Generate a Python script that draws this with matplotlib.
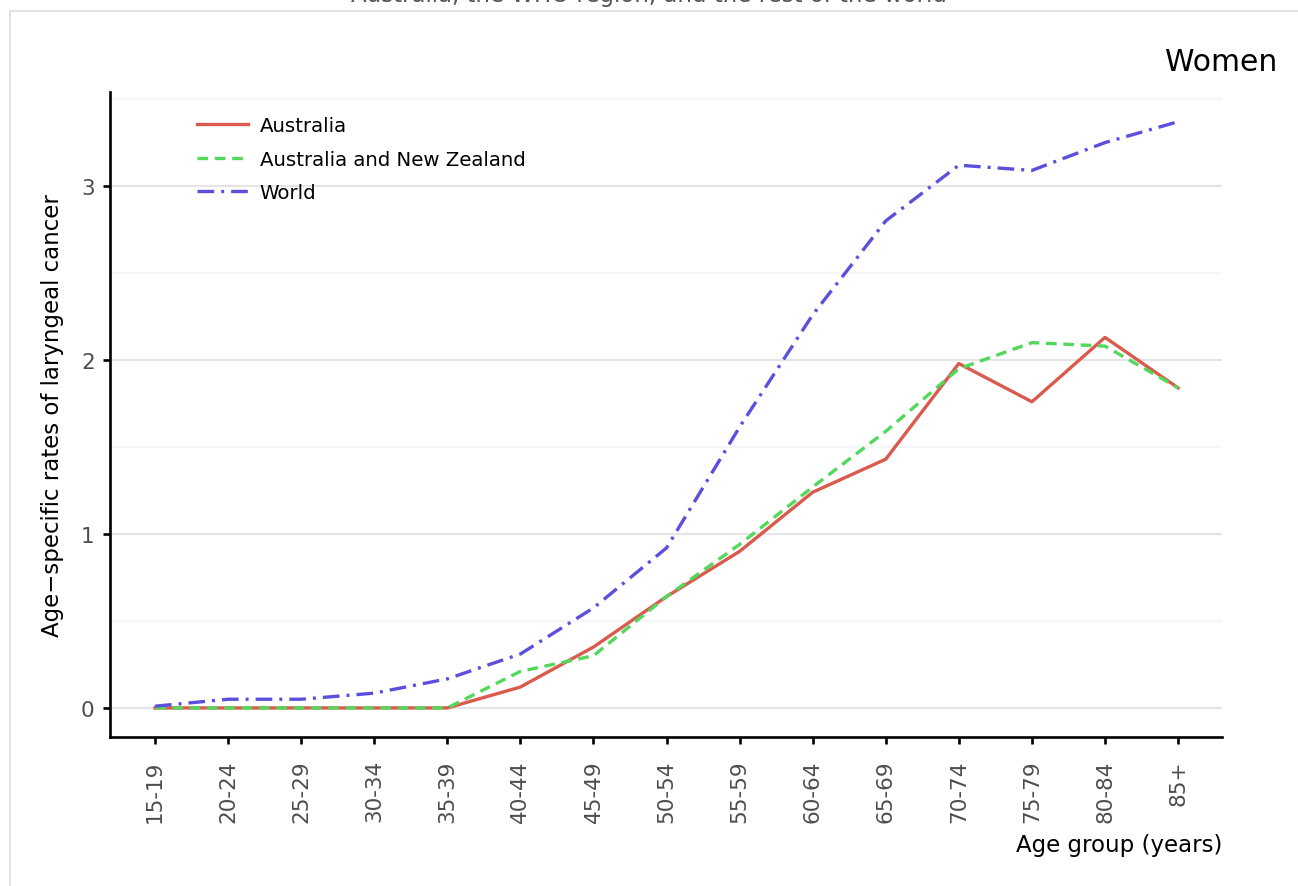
import matplotlib.pyplot as plt
from matplotlib.patches import Rectangle
from matplotlib.ticker import MultipleLocator

age_groups = ["15-19", "20-24", "25-29", "30-34", "35-39", "40-44", "45-49",
              "50-54", "55-59", "60-64", "65-69", "70-74", "75-79", "80-84", "85+"]

australia = [0, 0, 0, 0, 0, 0.12, 0.35, 0.64, 0.90, 1.24, 1.43, 1.98, 1.76, 2.13, 1.84]
anz = [0, 0, 0, 0, 0, 0.21, 0.30, 0.64, 0.94, 1.27, 1.59, 1.95, 2.10, 2.08, 1.84]
world = [0.01, 0.05, 0.05, 0.085, 0.167, 0.31, 0.575, 0.92, 1.615, 2.26, 2.80, 3.12,
         3.09, 3.25, 3.37]

RED = "#DB5A4E"
GREEN = "#52D85A"
BLUE = "#5B50DD"


def main():
    fig = plt.figure(figsize=(12.98, 8.87), dpi=100)
    ax = fig.add_axes([0.0847, 0.168, 0.8567, 0.727])

    # panel border and the clipped subtitle above it
    fig.patches.append(Rectangle((10 / 1298, -0.1), 1.2, 1 - 12 / 887 + 0.1,
                                 transform=fig.transFigure, fill=False,
                                 edgecolor="#dddddd", linewidth=1.2))
    fig.text(0.5, 1 - 2 / 887, "Australia, the WHO region, and the rest of the world",
             ha="center", va="baseline", fontsize=16.5, color="#555555")

    x = range(len(age_groups))
    ax.plot(x, australia, color=RED, linewidth=2.4, label="Australia")
    ax.plot(x, anz, color=GREEN, linewidth=2.4, linestyle=(0, (3.2, 2.0)),
            label="Australia and New Zealand")
    ax.plot(x, world, color=BLUE, linewidth=2.4, linestyle=(0, (5.0, 2.1, 0.9, 2.1)),
            label="World")

    ax.set_xlim(-0.616, 14.6)
    ax.set_ylim(-0.167, 3.54)
    ax.set_xticks(list(x))
    ax.set_xticklabels(age_groups, rotation=90)
    ax.yaxis.set_major_locator(MultipleLocator(1))
    ax.yaxis.set_minor_locator(MultipleLocator(0.5))

    ax.grid(axis="y", which="major", color="#e5e5e5", linewidth=1.6)
    ax.grid(axis="y", which="minor", color="#f6f6f6", linewidth=1.6)
    ax.set_axisbelow(True)

    for side in ["top", "right"]:
        ax.spines[side].set_linewidth(0)
        ax.spines[side].set_visible(False)
    for side in ["left", "bottom"]:
        ax.spines[side].set_linewidth(1.9)
    ax.tick_params(axis="x", which="major", length=5, width=1.9,
                   labelsize=15.5, labelcolor="#4d4d4d", pad=11)
    ax.tick_params(axis="y", which="major", length=5, width=1.9,
                   labelsize=15.5, labelcolor="#4d4d4d", pad=6)
    ax.tick_params(axis="y", which="minor", length=0)

    ax.set_ylabel("Age\u2212specific rates of laryngeal cancer", fontsize=16.5, labelpad=12)
    ax.set_xlabel("Age group (years)", fontsize=16.5, loc="right", labelpad=8)
    ax.set_title("Women", fontsize=21.5, loc="right", x=1.05, pad=16)

    ax.legend(loc="upper left", bbox_to_anchor=(0.062, 0.99), frameon=False,
              fontsize=14.2, handlelength=2.6, handletextpad=0.6, labelspacing=0.72)

    fig.savefig("out.png", dpi=100)


if __name__ == "__main__":
    main()
